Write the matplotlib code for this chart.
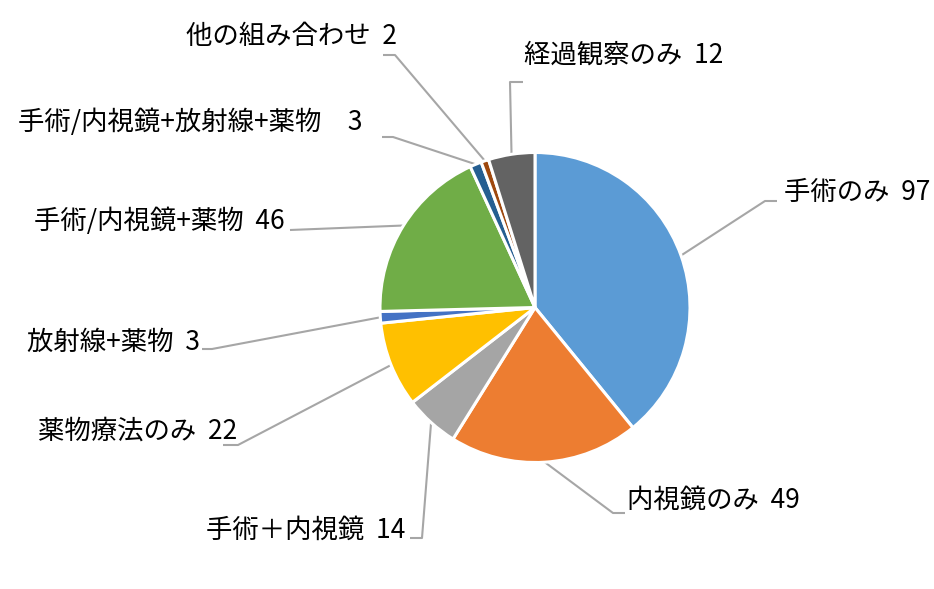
import matplotlib
matplotlib.use('Agg')
import matplotlib.pyplot as plt
import numpy as np

plt.rcParams['font.family'] = ['Noto Sans CJK JP', 'DejaVu Sans']

# ---- data ----
categories = ['手術のみ', '内視鏡のみ', '手術＋内視鏡', '薬物療法のみ', '放射線+薬物',
              '手術/内視鏡+薬物', '手術/内視鏡+放射線+薬物', '他の組み合わせ', '経過観察のみ']
counts = [97, 49, 14, 22, 3, 46, 3, 2, 12]
separators = ['  ', '  ', '  ', '  ', '  ', '  ', '\u3000', '  ', '  ']
colors = ['#5B9BD5', '#ED7D31', '#A5A5A5', '#FFC000', '#4472C4',
          '#70AD47', '#255E91', '#9E480E', '#636363']

# ---- layout (pixel coords, y downward) ----
W, H = 934, 589
cx, cy, R = 535, 307.5, 155
# (text x, text y center, ha, elbow point, end point)
layout = [
    (784, 192, 'left',  (765, 201), (777, 201)),
    (627, 500, 'left',  (613, 513), (625, 513)),
    (405, 530, 'right', (422, 538), (410, 538)),
    (237, 431, 'right', (238, 445), (223, 445)),
    (200, 342, 'right', (212, 349), (202, 349)),
    (285, 221, 'right', (290, 230), (290, 230)),
    (363, 122, 'right', (393, 137), (382, 137)),
    (397, 37,  'right', (395, 55),  (383, 55)),
    (524, 55,  'left',  (510, 82),  (523, 82)),
]

fig = plt.figure(figsize=(W / 100, H / 100), dpi=100)
ax = fig.add_axes([0, 0, 1, 1])
wedges, _ = ax.pie(counts, colors=colors, startangle=90, counterclock=False,
                   center=(cx, H - cy), radius=R,
                   wedgeprops=dict(edgecolor='white', linewidth=2.2))
ax.set_xlim(0, W)
ax.set_ylim(0, H)
ax.set_aspect('equal')
ax.axis('off')

for w, cat, sep, val, (tx, ty, ha, elbow, end) in zip(wedges, categories, separators, counts, layout):
    th = np.deg2rad((w.theta1 + w.theta2) / 2)
    axp = cx + R * np.cos(th)
    ayp = (H - cy) + R * np.sin(th)
    ax.plot([axp, elbow[0], end[0]], [ayp, H - elbow[1], H - end[1]],
            color='#A6A6A6', lw=1.5, solid_capstyle='butt', zorder=0.5)
    ax.text(tx, H - ty, f'{cat}{sep}{val}', ha=ha, va='center',
            fontsize=19, color='black')

fig.savefig('out.png', dpi=100, facecolor='white')
